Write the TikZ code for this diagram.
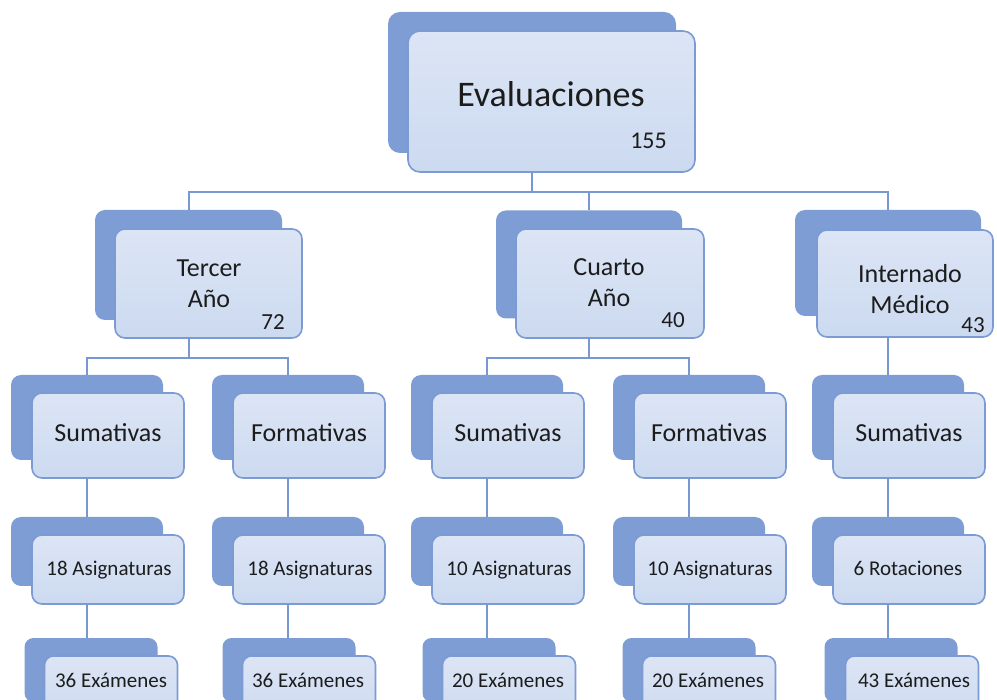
\documentclass[tikz,border=0pt]{standalone}
\usepackage{fontspec}
\setmainfont{Carlito}
\definecolor{backblue}{RGB}{126,157,212}
\definecolor{frontfill}{RGB}{204,218,240}
\definecolor{fronttop}{RGB}{220,229,245}
\definecolor{frontline}{RGB}{124,154,211}
\definecolor{linkblue}{RGB}{120,152,210}
\definecolor{txt}{RGB}{28,28,28}
\begin{document}
\begin{tikzpicture}[x=1pt,y=-1pt,
  backbox/.style={fill=backblue, rounded corners=#1, inner sep=0pt, outer sep=0pt},
  backbox/.default=10pt,
  frontbox/.style={draw=frontline, line width=1.6pt, top color=fronttop, bottom color=frontfill, rounded corners=#1, inner sep=0pt, outer sep=0pt},
  frontbox/.default=10pt,
  link/.style={draw=linkblue, line width=2pt},
  lbl/.style={text=txt, inner sep=0pt, anchor=base},
  lbltwo/.style={text=txt, inner sep=0pt, anchor=center, align=center, font=\fontsize{26}{31}\selectfont},
  numlbl/.style={text=txt, inner sep=0pt, anchor=base east, font=\fontsize{23}{26}\selectfont},
  fthree/.style={font=\fontsize{26}{30}\selectfont},
  ffour/.style={font=\fontsize{21}{25}\selectfont},
  lthree/.style={minimum width=152pt, minimum height=85pt},
  lfour/.style={minimum width=152pt, minimum height=69pt},
  lfive/.style={minimum width=133pt, minimum height=64pt}
]
\useasboundingbox (0,0) rectangle (997,700);
\fill[white] (0,0) rectangle (997,700);
\clip (0,0) rectangle (997,700);

% ---------- level 1
\node[backbox=12pt, minimum width=288pt, minimum height=141pt] (topb) at (532,82.5) {};
\node[frontbox=12pt, minimum width=287pt, minimum height=141pt] (topf) at (551.5,101.5) {};

% ---------- level 2
\node[backbox, minimum width=187pt, minimum height=110pt] (terb) at (188.5,265) {};
\node[frontbox, minimum width=187pt, minimum height=109pt] (terf) at (208.5,283.5) {};
\node[backbox, minimum width=186pt, minimum height=108pt] (cuab) at (589,264.5) {};
\node[frontbox, minimum width=188pt, minimum height=109pt] (cuaf) at (610,283.5) {};
\node[backbox, minimum width=186pt, minimum height=106pt] (intb) at (888,263) {};
\node[frontbox, minimum width=176pt, minimum height=107pt] (intf) at (905,283.5) {};

% ---------- level 3
\node[backbox, lthree] (sAb) at (87,417.5) {};
\node[frontbox, lthree] (sAf) at (108,435.5) {};
\node[backbox, lthree] (fAb) at (288,417.5) {};
\node[frontbox, lthree] (fAf) at (309,435.5) {};
\node[backbox, lthree] (sBb) at (487,417.5) {};
\node[frontbox, lthree] (sBf) at (508,435.5) {};
\node[backbox, lthree] (fBb) at (689,417.5) {};
\node[frontbox, lthree] (fBf) at (710,435.5) {};
\node[backbox, lthree] (sCb) at (888,417.5) {};
\node[frontbox, lthree] (sCf) at (909,435.5) {};

% ---------- level 4
\node[backbox, lfour] (aAb) at (87,551.5) {};
\node[frontbox, lfour] (aAf) at (108,569.5) {};
\node[backbox, lfour] (aBb) at (288,551.5) {};
\node[frontbox, lfour] (aBf) at (309,569.5) {};
\node[backbox, lfour] (aCb) at (487,551.5) {};
\node[frontbox, lfour] (aCf) at (508,569.5) {};
\node[backbox, lfour] (aDb) at (689,551.5) {};
\node[frontbox, lfour] (aDf) at (710,569.5) {};
\node[backbox, lfour] (aEb) at (888,551.5) {};
\node[frontbox, lfour] (aEf) at (909,569.5) {};

% ---------- level 5
\node[backbox=9pt, lfive] (eAb) at (91,670) {};
\node[frontbox=9pt, lfive] (eAf) at (111,688) {};
\node[backbox=9pt, lfive] (eBb) at (289,670) {};
\node[frontbox=9pt, lfive] (eBf) at (309,688) {};
\node[backbox=9pt, lfive] (eCb) at (489,670) {};
\node[frontbox=9pt, lfive] (eCf) at (509,688) {};
\node[backbox=9pt, lfive] (eDb) at (689,670) {};
\node[frontbox=9pt, lfive] (eDf) at (709,688) {};
\node[backbox=9pt, lfive] (eEb) at (891,670) {};
\node[frontbox=9pt, lfive] (eEf) at (912,688) {};

% ---------- connectors
\draw[link] (topb.south |- topf.south) -- ++(0,20) -| (terb.north);
\draw[link] (topb.south |- topf.south) -- ++(0,20) -| (cuab.north);
\draw[link] (topb.south |- topf.south) -- ++(0,20) -| (intb.north);

\draw[link] (terb.south |- terf.south) -- ++(0,20) -| (sAb.north);
\draw[link] (terb.south |- terf.south) -- ++(0,20) -| (fAb.north);
\draw[link] (cuab.south |- cuaf.south) -- ++(0,20) -| (sBb.north);
\draw[link] (cuab.south |- cuaf.south) -- ++(0,20) -| (fBb.north);
\draw[link] (sCb.north |- intf.south) -- (sCb.north);

\draw[link] (sAb.south |- sAf.south) -- (aAb.north);
\draw[link] (fAb.south |- fAf.south) -- (aBb.north);
\draw[link] (sBb.south |- sBf.south) -- (aCb.north);
\draw[link] (fBb.south |- fBf.south) -- (aDb.north);
\draw[link] (sCb.south |- sCf.south) -- (aEb.north);

\draw[link] (aAb.south |- aAf.south) -- (aAb.south |- eAb.north);
\draw[link] (aBb.south |- aBf.south) -- (aBb.south |- eBb.north);
\draw[link] (aCb.south |- aCf.south) -- (aCb.south |- eCb.north);
\draw[link] (aDb.south |- aDf.south) -- (aDb.south |- eDb.north);
\draw[link] (aEb.south |- aEf.south) -- (aEb.south |- eEb.north);

% ---------- texts
\node[lbl, font=\fontsize{36}{40}\selectfont] (tEval) at (551,107) {Evaluaciones};
\node[numlbl, font=\fontsize{24}{28}\selectfont] (nEval) at (667,149) {155};

\node[lbltwo] (tTer) at (209,283.5) {Tercer\\Año};
\node[numlbl] (nTer) at (285,330) {72};
\node[lbltwo] (tCua) at (609,283) {Cuarto\\Año};
\node[numlbl] (nCua) at (685,328) {40};
\node[lbltwo] (tInt) at (910,289) {Internado\\Médico};
\node[numlbl] (nInt) at (985,333) {43};

\node[lbl, fthree] (tsA) at (108,442) {Sumativas};
\node[lbl, fthree] (tfA) at (309,442) {Formativas};
\node[lbl, fthree] (tsB) at (508,442) {Sumativas};
\node[lbl, fthree] (tfB) at (709,442) {Formativas};
\node[lbl, fthree] (tsC) at (909,442) {Sumativas};

\node[lbl, ffour] (taA) at (109,576) {18 Asignaturas};
\node[lbl, ffour] (taB) at (310,576) {18 Asignaturas};
\node[lbl, ffour] (taC) at (509,576) {10 Asignaturas};
\node[lbl, ffour] (taD) at (710,576) {10 Asignaturas};
\node[lbl, ffour] (taE) at (908,576) {6 Rotaciones};

\node[lbl, ffour] (teA) at (111,687) {36 Exámenes};
\node[lbl, ffour] (teB) at (308,687) {36 Exámenes};
\node[lbl, ffour] (teC) at (508,687) {20 Exámenes};
\node[lbl, ffour] (teD) at (708,687) {20 Exámenes};
\node[lbl, ffour] (teE) at (914,687) {43 Exámenes};
\end{tikzpicture}
\end{document}
